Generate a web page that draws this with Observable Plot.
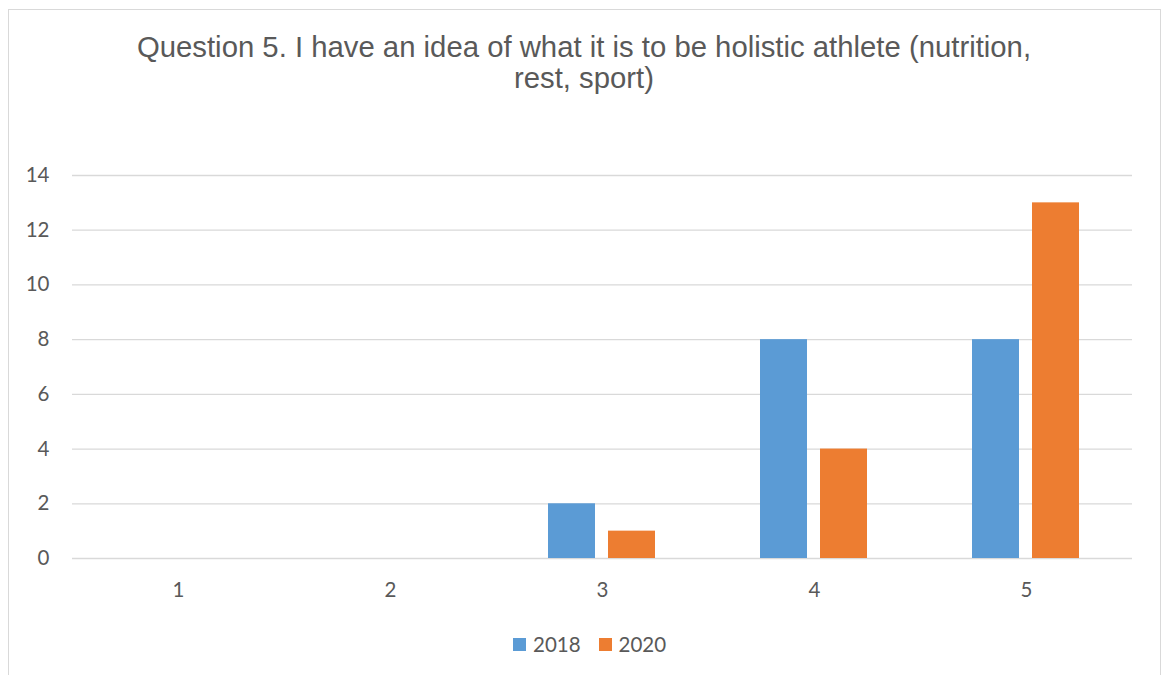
<!DOCTYPE html>
<html>
<head>
<meta charset="utf-8">
<script src="https://cdn.jsdelivr.net/npm/d3@7"></script>
<script src="https://cdn.jsdelivr.net/npm/@observablehq/plot@0.6"></script>
<style>
  html, body { margin: 0; padding: 0; background: #fff; }
  body { width: 1162px; height: 675px; position: relative; overflow: hidden; }
  #frame { position: absolute; left: 8px; top: 9px; width: 1153px; height: 700px; border: 1px solid #d9d9d9; box-sizing: border-box; }
  #title { position: absolute; left: 3px; top: 31px; width: 1162px; text-align: center;
           font-family: "Liberation Sans", Arial, sans-serif; font-size: 29.3px; line-height: 31px; color: #595959; }
  #chart { position: absolute; left: 0; top: 140px; }
  #legend { position: absolute; left: 513px; top: 633px; display: flex; align-items: center;
            font-family: Lato, "Open Sans", sans-serif; font-size: 20.5px; color: #595959; line-height: 22px; }
  #legend .sw { width: 13px; height: 13px; margin-right: 7px; }
  #legend .item { display: flex; align-items: center; margin-right: 18px; }
</style>
</head>
<body>
<div id="frame"></div>
<div id="title">Question 5. I have an idea of what it is to be holistic athlete (nutrition,<br>rest, sport)</div>
<div id="chart"></div>
<div id="legend"></div>
<script>
const categories = ["1", "2", "3", "4", "5"];
const years = ["2018", "2020"];
const values2018 = [0, 0, 2, 8, 8];
const values2020 = [0, 0, 1, 4, 13];
const yTicks = [0, 2, 4, 6, 8, 10, 12, 14];
const colors = ["#5b9bd5", "#ed7d31"];

const data = [];
categories.forEach((c, i) => {
  data.push({cat: c, year: years[0], value: values2018[i]});
  data.push({cat: c, year: years[1], value: values2020[i]});
});

const chart = Plot.plot({
  width: 1162,
  height: 480,
  marginLeft: 72,
  marginRight: 30,
  marginTop: 35,
  marginBottom: 62,
  style: {fontFamily: "Lato, 'Open Sans', sans-serif", fontSize: "20.5px", color: "#595959", background: "transparent"},
  fx: {domain: categories, padding: 0, label: null},
  x: {domain: years, paddingInner: 0.21, paddingOuter: 0.87, axis: null},
  y: {domain: [0, 14], label: null},
  color: {domain: years, range: colors},
  marks: [
    Plot.ruleY(yTicks, {stroke: "#d9d9d9", strokeWidth: 1.3}),
    Plot.barY(data, {fx: "cat", x: "year", y: "value", fill: "year"}),
    Plot.axisY({ticks: yTicks, tickSize: 0, tickPadding: 23, label: null, fill: "#595959"}),
    Plot.axisFx({anchor: "bottom", tickSize: 0, tickPadding: 24, label: null, fill: "#595959"})
  ]
});
document.getElementById("chart").appendChild(chart);

const legend = document.getElementById("legend");
years.forEach((y, i) => {
  const item = document.createElement("div");
  item.className = "item";
  const sw = document.createElement("div");
  sw.className = "sw";
  sw.style.background = colors[i];
  const t = document.createElement("span");
  t.textContent = y;
  item.appendChild(sw);
  item.appendChild(t);
  legend.appendChild(item);
});
</script>
</body>
</html>
